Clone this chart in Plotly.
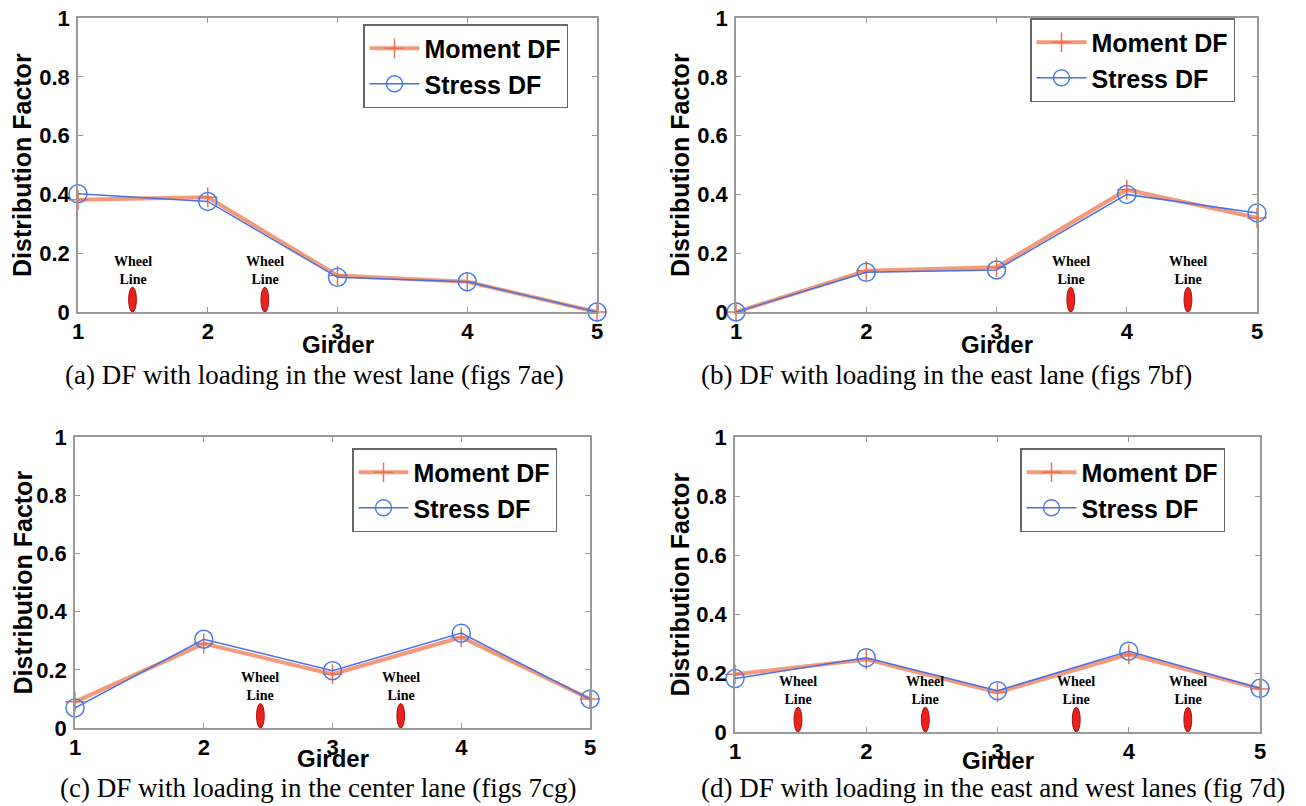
import plotly.graph_objects as go

girders = [1, 2, 3, 4, 5]

moment_a = [0.382, 0.39, 0.124, 0.103, 0.0]
stress_a = [0.402, 0.376, 0.118, 0.103, 0.0]
moment_b = [0.0, 0.14, 0.152, 0.416, 0.32]
stress_b = [0.0, 0.135, 0.143, 0.40, 0.337]
moment_c = [0.09, 0.29, 0.185, 0.312, 0.10]
stress_c = [0.069, 0.305, 0.197, 0.326, 0.099]
moment_d = [0.196, 0.246, 0.134, 0.263, 0.146]
stress_d = [0.181, 0.252, 0.14, 0.274, 0.148]

wheel_a = [1.42, 2.44]
wheel_b = [3.57, 4.47]
wheel_c = [2.44, 3.53]
wheel_d = [1.48, 2.45, 3.60, 4.45]
wheel_height = 0.084

captions = [
    "(a) DF with loading in the west lane (figs 7ae)",
    "(b) DF with loading in the east lane (figs 7bf)",
    "(c) DF with loading in the center lane (figs 7cg)",
    "(d) DF with loading in the east and west lanes (fig 7d)",
]

y_ticks = [0, 0.2, 0.4, 0.6, 0.8, 1]
y_tick_text = ["0", "0.2", "0.4", "0.6", "0.8", "1"]
x_ticks = [1, 2, 3, 4, 5]

# page body has an 8px margin; figure is sized to fill the rest of the window
OFF = 8
W, H = 1306 - OFF, 806 - OFF
# pixel boxes in window coordinates: (left, right, top, bottom)
boxes = [(78, 597, 18, 312), (736, 1257, 18, 312), (75, 590, 437, 728), (735, 1260, 437, 732)]
legend_pos = [(363, 24), (1030, 18), (352, 448), (1020, 448)]
girder_y = [345, 345, 758, 760]
caption_pos = [(314, 375), (946, 375), (318, 788), (993, 788)]


def px(v):
    return (v - OFF) / W


def py(v):
    return 1 - (v - OFF) / H


panels = [
    (moment_a, stress_a, wheel_a),
    (moment_b, stress_b, wheel_b),
    (moment_c, stress_c, wheel_c),
    (moment_d, stress_d, wheel_d),
]

SANS = "Liberation Sans, Arial, sans-serif"
SERIF = "Liberation Serif, Times New Roman, serif"
ORANGE = "#F39A7A"
BLUE = "#4D6EE0"

fig = go.Figure()
layout = dict(template="none", width=W, height=H, margin=dict(l=0, r=0, t=0, b=0, pad=0),
              paper_bgcolor="white", plot_bgcolor="white", showlegend=True)
annotations = []
shapes = []

for i, (mom, stre, wheels) in enumerate(panels):
    n = i + 1
    xa = "x" if n == 1 else f"x{n}"
    ya = "y" if n == 1 else f"y{n}"
    lg = "legend" if n == 1 else f"legend{n}"
    l, r, t, b = boxes[i]
    layout[f"xaxis{'' if n == 1 else n}"] = dict(
        domain=[px(l), px(r)], anchor=ya, range=[1, 5], automargin=False,
        tickvals=x_ticks, ticktext=[str(v) for v in x_ticks],
        ticks="inside", ticklen=5, tickcolor="#999", ticklabelstandoff=-1,
        ticklabeloverflow="allow",
        showline=True, linecolor="#999", linewidth=1.5, mirror="ticks",
        showgrid=False, zeroline=False,
        tickfont=dict(family=SANS, size=22, color="black", weight="bold"),
    )
    layout[f"yaxis{'' if n == 1 else n}"] = dict(
        domain=[py(b), py(t)], anchor=xa, range=[0, 1], automargin=False,
        tickvals=y_ticks, ticktext=y_tick_text,
        ticks="inside", ticklen=5, tickcolor="#999", ticklabelstandoff=2,
        ticklabeloverflow="allow",
        showline=True, linecolor="#999", linewidth=1.5, mirror="ticks",
        showgrid=False, zeroline=False,
        tickfont=dict(family=SANS, size=22, color="black", weight="bold"),
    )
    lx, ly = legend_pos[i]
    layout[lg] = dict(
        x=px(lx), y=py(ly), xanchor="left", yanchor="top",
        bordercolor="#666", borderwidth=1.5, bgcolor="white",
        font=dict(family=SANS, size=25, color="black", weight="bold"),
        itemwidth=50, tracegroupgap=0,
    )
    fig.add_trace(go.Scatter(
        x=girders, y=mom, mode="lines+markers", name="Moment DF",
        line=dict(color=ORANGE, width=4),
        marker=dict(symbol="cross-thin", size=14, line=dict(color="#F07050", width=1.5)),
        xaxis=xa, yaxis=ya, legend=lg, cliponaxis=False,
    ))
    fig.add_trace(go.Scatter(
        x=girders, y=stre, mode="lines+markers", name="Stress DF",
        line=dict(color=BLUE, width=1.5),
        marker=dict(symbol="circle-open", size=18, color="#4A7BE8", line=dict(width=1.5)),
        xaxis=xa, yaxis=ya, legend=lg, cliponaxis=False,
    ))
    for w in wheels:
        shapes.append(dict(type="circle", xref=xa, yref=ya,
                           x0=w - 0.03, x1=w + 0.03, y0=0.0, y1=wheel_height,
                           fillcolor="#E8231E", line=dict(color="#A81010", width=1)))
        annotations.append(dict(x=w, y=wheel_height - 0.006, xref=xa, yref=ya,
                                text="Wheel<br>Line", showarrow=False, yanchor="bottom",
                                xanchor="center",
                                font=dict(family=SERIF, size=14, color="black", weight="bold"),
                                align="center"))
    # axis titles
    annotations.append(dict(x=px((l + r) / 2), y=py(girder_y[i]), xref="paper", yref="paper",
                            text="Girder", showarrow=False, yanchor="middle", xanchor="center",
                            font=dict(family=SANS, size=24, color="black", weight="bold")))
    annotations.append(dict(x=px(l - 56 if n in (2, 4) else 22), y=py((t + b) / 2),
                            xref="paper", yref="paper",
                            text="Distribution Factor", showarrow=False, textangle=-90,
                            xanchor="center", yanchor="middle",
                            font=dict(family=SANS, size=25, color="black", weight="bold")))
    cx, cy = caption_pos[i]
    annotations.append(dict(x=px(cx), y=py(cy), xref="paper", yref="paper",
                            text=captions[i], showarrow=False, yanchor="middle", xanchor="center",
                            font=dict(family=SERIF, size=27, color="black")))

layout["annotations"] = annotations
layout["shapes"] = shapes
fig.update_layout(**layout)
fig.write_html("out.html")
